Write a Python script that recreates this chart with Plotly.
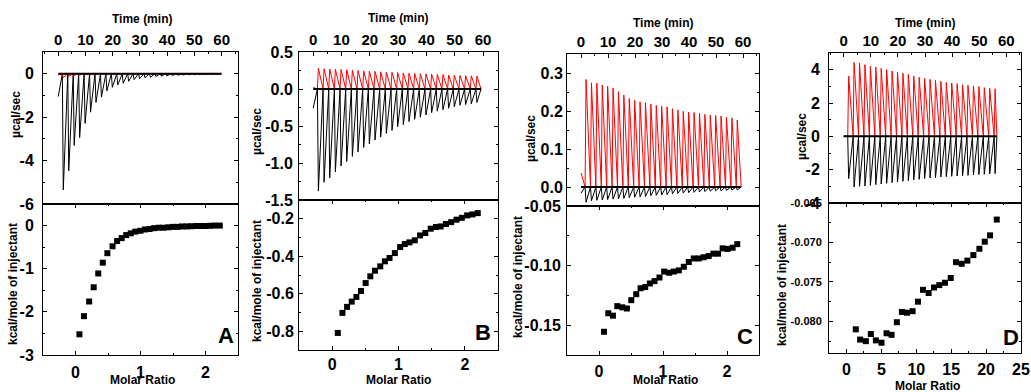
import plotly.graph_objects as go

FONT = "Liberation Sans"
W, H = 1031, 392

# ---------------- data ----------------
# injection times (min), shared by the raw thermograms
inj_times = [1.5, 3.5, 5.5, 7.5, 9.5, 11.5, 13.5, 15.5, 17.5, 19.5, 21.5, 23.5, 25.5, 27.5,
             29.5, 31.5, 33.5, 35.5, 37.5, 39.5, 41.5, 43.5, 45.5, 47.5, 49.5, 51.5, 53.5,
             55.5, 57.5]

# Panel A raw peaks (ucal/sec)
A_sample_peaks = [-5.35, -4.47, -3.3, -2.94, -2.29, -1.77, -1.32, -1.08, -0.79, -0.63, -0.52,
                  -0.44, -0.35, -0.27, -0.23, -0.19, -0.16, -0.13, -0.11, -0.10, -0.08, -0.07,
                  -0.06, -0.05, -0.05, -0.04, -0.04, -0.03, -0.03]
A_ref_peaks = [-0.18, -0.12, -0.08, -0.06, -0.05, -0.04, -0.04, -0.03, -0.03, -0.03, -0.03,
               -0.02, -0.02, -0.02, -0.02, -0.02, -0.02, -0.02, -0.02, -0.02, -0.02, -0.02,
               -0.02, -0.02, -0.02, -0.02, -0.02, -0.02, -0.02]
A_sample_start = -1.05
A_ref_start = -0.05
A_end = 60.0

# Panel B raw peaks
B_sample_peaks = [-1.38, -1.26, -1.20, -1.12, -1.04, -0.98, -0.91, -0.85, -0.79, -0.74, -0.69,
                  -0.65, -0.60, -0.56, -0.51, -0.48, -0.44, -0.41, -0.38, -0.35, -0.32, -0.30,
                  -0.28, -0.26, -0.24, -0.22, -0.21, -0.20, -0.18]
B_ref_peaks = [0.28, 0.275, 0.27, 0.268, 0.265, 0.26, 0.255, 0.25, 0.245, 0.24, 0.237, 0.233,
               0.23, 0.226, 0.222, 0.218, 0.214, 0.21, 0.207, 0.204, 0.2, 0.197, 0.194, 0.19,
               0.187, 0.184, 0.181, 0.178, 0.175]
B_sample_start = -0.26
B_ref_start = 0.02
B_end = 59.3

# Panel C raw peaks
C_sample_peaks = [-0.040, -0.036, -0.035, -0.034, -0.033, -0.032, -0.031, -0.030, -0.028, -0.027,
                  -0.026, -0.025, -0.023, -0.022, -0.021, -0.020, -0.018, -0.017, -0.016, -0.015,
                  -0.014, -0.013, -0.012, -0.011, -0.010, -0.010, -0.009, -0.008, -0.008]
C_ref_peaks = [0.283, 0.274, 0.273, 0.268, 0.265, 0.26, 0.251, 0.242, 0.233, 0.228, 0.224, 0.222,
               0.218, 0.215, 0.213, 0.211, 0.206, 0.203, 0.199, 0.197, 0.196, 0.194, 0.191, 0.189,
               0.188, 0.187, 0.184, 0.182, 0.176]
C_sample_start = -0.016
C_ref_start = 0.037
C_end = 59.3

# Panel D raw peaks
D_sample_peaks = [-2.54, -3.04, -3.0, -2.98, -2.94, -2.9, -2.86, -2.82, -2.78, -2.74, -2.7, -2.66,
                  -2.62, -2.58, -2.54, -2.5, -2.48, -2.44, -2.42, -2.4, -2.38, -2.36, -2.34, -2.32,
                  -2.3, -2.28, -2.26, -2.24]
D_ref_peaks = [3.62, 4.44, 4.40, 4.30, 4.20, 4.16, 4.08, 4.00, 3.92, 3.86, 3.78, 3.72, 3.62, 3.54,
               3.48, 3.42, 3.36, 3.30, 3.24, 3.20, 3.16, 3.10, 3.06, 3.02, 2.98, 2.92, 2.88, 2.86]
D_sample_start = 0.0
D_ref_start = 0.0
D_end = 56.5

# Integrated heats (kcal/mole of injectant) vs molar ratio
A_ratio = [0.06, 0.13, 0.21, 0.28, 0.35, 0.42, 0.49, 0.57, 0.64, 0.71, 0.78, 0.85, 0.92, 1.00,
           1.07, 1.14, 1.21, 1.28, 1.35, 1.43, 1.50, 1.57, 1.64, 1.71, 1.78, 1.86, 1.93, 2.00,
           2.07, 2.14, 2.22]
A_heat = [-2.52, -2.10, -1.76, -1.43, -1.11, -0.86, -0.64, -0.48, -0.36, -0.29, -0.22, -0.18,
          -0.14, -0.12, -0.09, -0.08, -0.06, -0.05, -0.05, -0.04, -0.03, -0.03, -0.02, -0.02,
          -0.015, -0.01, -0.01, -0.01, -0.005, 0.0, 0.0]

B_ratio = [0.085, 0.155, 0.225, 0.295, 0.365, 0.435, 0.505, 0.575, 0.645, 0.725, 0.795, 0.865,
           0.945, 1.025, 1.095, 1.165, 1.245, 1.325, 1.405, 1.485, 1.565, 1.635, 1.715, 1.795,
           1.875, 1.955, 2.035, 2.115, 2.195]
B_heat = [-0.809, -0.702, -0.670, -0.642, -0.617, -0.585, -0.543, -0.507, -0.477, -0.454, -0.427,
          -0.409, -0.383, -0.351, -0.335, -0.326, -0.315, -0.289, -0.276, -0.253, -0.244, -0.241,
          -0.228, -0.218, -0.205, -0.195, -0.182, -0.177, -0.170]

C_ratio = [0.078, 0.145, 0.218, 0.286, 0.364, 0.436, 0.504, 0.582, 0.65, 0.722, 0.795, 0.868,
           0.945, 1.018, 1.096, 1.169, 1.247, 1.325, 1.403, 1.48, 1.558, 1.636, 1.714, 1.787,
           1.86, 1.932, 2.01, 2.088, 2.16]
C_heat = [-0.1555, -0.140, -0.142, -0.134, -0.135, -0.136, -0.129, -0.124, -0.119, -0.118, -0.115,
          -0.113, -0.110, -0.105, -0.106, -0.105, -0.104, -0.101, -0.097, -0.094, -0.094, -0.093,
          -0.092, -0.090, -0.090, -0.0855, -0.086, -0.085, -0.082]

D_ratio = [1.34, 1.96, 2.78, 3.49, 4.21, 5.02, 5.74, 6.46, 7.22, 7.94, 8.66, 9.47, 10.24, 10.96,
           11.77, 12.54, 13.3, 14.11, 14.93, 15.69, 16.51, 17.32, 18.18, 19.04, 19.81, 20.57, 21.53]
D_heat = [-0.0810, -0.0823, -0.0825, -0.0816, -0.0824, -0.0827, -0.0815, -0.0817, -0.0801,
          -0.0788, -0.0789, -0.0787, -0.0775, -0.0760, -0.0764, -0.0757, -0.0754, -0.0751,
          -0.0745, -0.0725, -0.0727, -0.0723, -0.0716, -0.0708, -0.0699, -0.0691, -0.0671]

panel_letters = ["A", "B", "C", "D"]

# tick values / labels
time_ticks = [0, 10, 20, 30, 40, 50, 60]
time_labels = ["0", "10", "20", "30", "40", "50", "60"]
raw_ticks = [[-6, -4, -2, 0], [-1.5, -1.0, -0.5, 0.0, 0.5], [0.0, 0.1, 0.2, 0.3], [-4, -2, 0, 2, 4]]
raw_labels = [["-6", "-4", "-2", "0"], ["-1.5", "-1.0", "-0.5", "0.0", "0.5"],
              ["0.0", "0.1", "0.2", "0.3"], ["-4", "-2", "0", "2", "4"]]
int_ticks = [[-3, -2, -1, 0], [-0.8, -0.6, -0.4, -0.2], [-0.15, -0.10, -0.05],
             [-0.080, -0.075, -0.070, -0.065]]
int_labels = [["-3", "-2", "-1", "0"], ["-0.8", "-0.6", "-0.4", "-0.2"],
              ["-0.15", "-0.10", "-0.05"], ["-0.080", "-0.075", "-0.070", "-0.065"]]
ratio_ticks = [[0, 1, 2], [0, 1, 2], [0, 1, 2], [0, 5, 10, 15, 20, 25]]
ratio_labels = [["0", "1", "2"], ["0", "1", "2"], ["0", "1", "2"],
                ["0", "5", "10", "15", "20", "25"]]

# ---------------- layout geometry (pixels) ----------------
geom = [
    dict(x0=43, x1=238, top=52, mid=204, bot=355),
    dict(x0=299, x1=498, top=52, mid=200, bot=350),
    dict(x0=567, x1=759, top=54, mid=206, bot=355),
    dict(x0=829, x1=1021, top=53, mid=203, bot=353),
]
time_ranges = [[-5.6, 66.0], [-5.0, 65.3], [-5.2, 65.9], [-5.4, 65.4]]
ratio_ranges = [[-0.5, 2.5], [-0.5, 2.5], [-0.5, 2.5], [-2.5, 25]]
raw_ranges = [[-6, 1], [-1.5, 0.5], [-0.05, 0.35], [-4, 5]]
int_ranges = [[-3, 0.5], [-0.9, -0.1], [-0.175, -0.05], [-0.084, -0.065]]
raw_minor = [1, 0.25, 0.05, 1]
int_minor = [0.5, 0.1, 0.025, 0.0025]
ratio_minor = [0.5, 0.5, 0.5, 2.5]
raw_font = [16, 16, 16, 16]
int_font = [16, 16, 16, 11]
raw_standoff = [5, 2, 0, 5]
int_standoff = [5, 1, 2, 4]
ratio_standoff = [3, 0, 2, 2]

raw_sets = [
    (A_sample_start, A_sample_peaks, A_ref_start, A_ref_peaks, A_end),
    (B_sample_start, B_sample_peaks, B_ref_start, B_ref_peaks, B_end),
    (C_sample_start, C_sample_peaks, C_ref_start, C_ref_peaks, C_end),
    (D_sample_start, D_sample_peaks, D_ref_start, D_ref_peaks, D_end),
]
int_sets = [(A_ratio, A_heat), (B_ratio, B_heat), (C_ratio, C_heat), (D_ratio, D_heat)]


def sawtooth(start_v, peaks, end_t, rise=0.35):
    xs, ys = [0.0], [start_v]
    for t, h in zip(inj_times, peaks):
        xs += [t, t + rise]
        ys += [0.0, h]
    xs.append(min(end_t, xs[-1] + 1.9))
    ys.append(0.0)
    return xs, ys


def xd(a, b):
    return [a / W, b / W]


def yd(top, bot):
    return [1 - bot / H, 1 - top / H]


def bold(labels):
    return ["<b>" + s + "</b>" for s in labels]


def tf(size):
    return dict(family=FONT, size=size, color="black")


fig = go.Figure()
common = dict(showline=True, linecolor="black", linewidth=1, ticks="inside", ticklen=4,
              tickwidth=1, tickcolor="black", showgrid=False, zeroline=False,
              automargin=False, tickmode="array")
annotations = []

for k in range(4):
    g = geom[k]
    it, ib = 2 * k + 1, 2 * k + 2
    xt = "x" if it == 1 else f"x{it}"
    yt = "y" if it == 1 else f"y{it}"
    xb, yb = f"x{ib}", f"y{ib}"
    s_start, s_peaks, r_start, r_peaks, end_t = raw_sets[k]
    sx, sy = sawtooth(s_start, s_peaks, end_t)
    rx, ry = sawtooth(r_start, r_peaks, end_t)
    fig.add_trace(go.Scatter(x=sx, y=sy, mode="lines", line=dict(color="black", width=1),
                             xaxis=xt, yaxis=yt, showlegend=False, hoverinfo="skip"))
    fig.add_trace(go.Scatter(x=rx, y=ry, mode="lines", line=dict(color="#ff0000", width=1),
                             xaxis=xt, yaxis=yt, showlegend=False, hoverinfo="skip"))
    fig.add_trace(go.Scatter(x=[0.0, end_t], y=[0.0, 0.0], mode="lines",
                             line=dict(color="black", width=2),
                             xaxis=xt, yaxis=yt, showlegend=False, hoverinfo="skip"))
    rx_, hy_ = int_sets[k]
    fig.add_trace(go.Scatter(x=rx_, y=hy_, mode="markers",
                             marker=dict(symbol="square", size=6, color="black"),
                             xaxis=xb, yaxis=yb, showlegend=False))

    lay = {}
    lay["xaxis" if it == 1 else f"xaxis{it}"] = dict(
        common, domain=xd(g["x0"], g["x1"]), anchor=yt, side="top", range=time_ranges[k],
        tickvals=time_ticks, ticktext=bold(time_labels), mirror=True, tickfont=tf(15),
        minor=dict(ticks="inside", ticklen=2, tickmode="linear", tick0=0, dtick=5,
                   tickcolor="black"))
    lay["yaxis" if it == 1 else f"yaxis{it}"] = dict(
        common, domain=yd(g["top"], g["mid"]), anchor=xt, range=raw_ranges[k],
        tickvals=raw_ticks[k], ticktext=bold(raw_labels[k]), mirror="ticks",
        ticklabelstandoff=raw_standoff[k], tickfont=tf(raw_font[k]),
        minor=dict(ticks="inside", ticklen=2, tickmode="linear", tick0=0, dtick=raw_minor[k],
                   tickcolor="black"))
    lay[f"xaxis{ib}"] = dict(
        common, domain=xd(g["x0"], g["x1"]), anchor=yb, range=ratio_ranges[k],
        tickvals=ratio_ticks[k], ticktext=bold(ratio_labels[k]), mirror="ticks",
        ticklabelstandoff=ratio_standoff[k], tickfont=tf(16),
        minor=dict(ticks="inside", ticklen=2, tickmode="linear", tick0=0, dtick=ratio_minor[k],
                   tickcolor="black"))
    lay[f"yaxis{ib}"] = dict(
        common, domain=yd(g["mid"], g["bot"]), anchor=xb, range=int_ranges[k],
        tickvals=int_ticks[k], ticktext=bold(int_labels[k]), mirror="ticks",
        ticklabelstandoff=int_standoff[k], tickfont=tf(int_font[k]),
        minor=dict(ticks="inside", ticklen=2, tickmode="linear", tick0=0, dtick=int_minor[k],
                   tickcolor="black"))
    fig.update_layout(**lay)

# axis titles as annotations (pixel positions)
tfont = dict(family=FONT, size=12, color="black")
time_title = [(142, 19), (398, 18), (663, 23), (925, 23)]
ucal_title = [(16, 115), (257, 132), (531, 139), (802, 137)]
kcal_title = [(13, 284), (257, 281), (518, 277), (782, 285)]
molar_title = [(142, 380), (398, 380), (665, 380), (927, 386)]
letter_pos = [(226, 335), (483, 332), (745, 336), (1011, 337)]


def ann(text, pos, font, angle=0):
    return dict(text=text, x=pos[0] / W, y=1 - pos[1] / H, xref="paper", yref="paper",
                xanchor="center", yanchor="middle", showarrow=False, font=font,
                textangle=angle)


for k in range(4):
    annotations.append(ann("<b>Time (min)</b>", time_title[k], tfont))
    annotations.append(ann("<b>µcal/sec</b>", ucal_title[k], tfont, -90))
    annotations.append(ann("<b>kcal/mole of injectant</b>", kcal_title[k], tfont, -90))
    annotations.append(ann("<b>Molar Ratio</b>", molar_title[k], tfont))
    annotations.append(ann("<b>" + panel_letters[k] + "</b>", letter_pos[k],
                           dict(family=FONT, size=22, color="black")))

fig.update_layout(width=W, height=H, margin=dict(l=0, r=0, t=0, b=0, autoexpand=False),
                  paper_bgcolor="white", plot_bgcolor="white", annotations=annotations)

fig.write_html("out.html", config={"displayModeBar": False},
               post_script="document.body.style.margin='0';document.body.style.overflow='hidden';")
